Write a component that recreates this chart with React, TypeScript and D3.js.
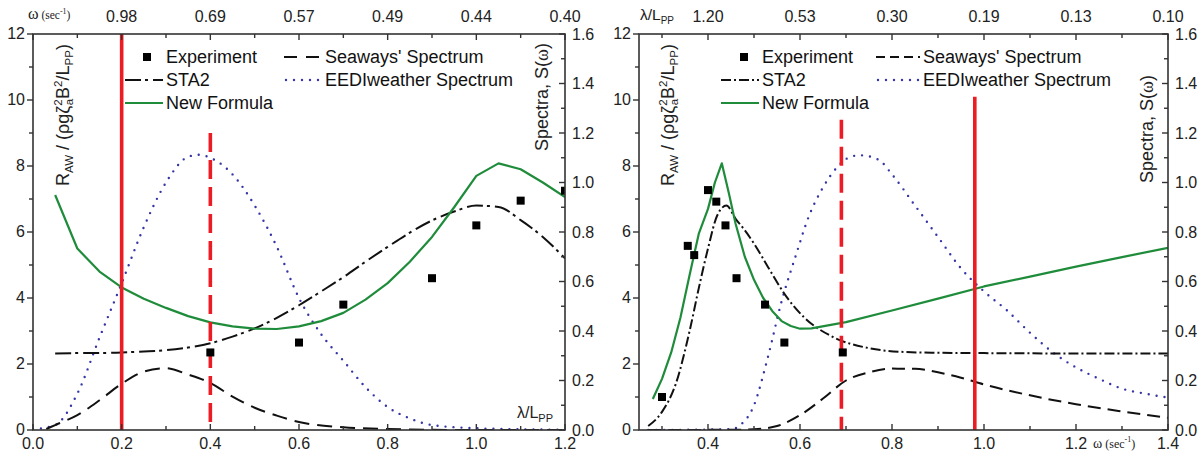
import React from "react";
import * as d3 from "d3";

const FONT = "Arial, 'Liberation Sans', Helvetica, sans-serif";
const SERIF = "'Liberation Serif', 'DejaVu Serif', Times, serif";

// ---------- Left panel (x = λ/Lpp) ----------
const leftFormulaX = [0.05, 0.1, 0.15, 0.2, 0.25, 0.3, 0.35, 0.4, 0.45, 0.5, 0.55, 0.6, 0.65, 0.7, 0.75, 0.8, 0.85, 0.9, 0.95, 1.0, 1.05, 1.1, 1.15, 1.2];
const leftFormulaY = [7.12, 5.5, 4.8, 4.32, 3.98, 3.7, 3.45, 3.26, 3.14, 3.07, 3.06, 3.14, 3.3, 3.55, 3.95, 4.45, 5.1, 5.85, 6.75, 7.7, 8.08, 7.9, 7.5, 7.06];
const leftSta2X = [0.05, 0.1, 0.15, 0.2, 0.25, 0.3, 0.35, 0.4, 0.45, 0.5, 0.55, 0.6, 0.65, 0.7, 0.75, 0.8, 0.85, 0.9, 0.95, 1.0, 1.05, 1.1, 1.15, 1.2];
const leftSta2Y = [2.32, 2.33, 2.33, 2.35, 2.38, 2.42, 2.5, 2.63, 2.83, 3.08, 3.4, 3.78, 4.2, 4.63, 5.1, 5.55, 5.98, 6.35, 6.62, 6.8, 6.76, 6.36, 5.85, 5.2];
const leftExpX = [0.4, 0.6, 0.7, 0.9, 1.0, 1.1, 1.2];
const leftExpY = [2.35, 2.65, 3.8, 4.6, 6.2, 6.95, 7.25];
const leftSeawaysX = [0.03, 0.05, 0.1, 0.15, 0.2, 0.25, 0.3, 0.35, 0.4, 0.45, 0.5, 0.55, 0.6, 0.7, 0.8, 0.9, 1.0, 1.1, 1.2];
const leftSeawaysS = [0.004, 0.02, 0.06, 0.12, 0.187, 0.236, 0.25, 0.224, 0.19, 0.135, 0.09, 0.058, 0.032, 0.011, 0.004, 0.001, 0, 0, 0];
const leftEediX = [0.0, 0.05, 0.1, 0.15, 0.2, 0.25, 0.3, 0.35, 0.375, 0.4, 0.45, 0.5, 0.55, 0.6, 0.65, 0.7, 0.75, 0.8, 0.85, 0.9, 1.0, 1.1, 1.2];
const leftEediS = [0.003, 0.02, 0.147, 0.373, 0.593, 0.82, 1.0, 1.104, 1.112, 1.1, 1.033, 0.907, 0.74, 0.533, 0.387, 0.28, 0.173, 0.093, 0.047, 0.02, 0.007, 0.003, 0.001];
const leftBottomTicks = [0, 0.2, 0.4, 0.6, 0.8, 1.0, 1.2];
const leftBottomLabels = ["0.0", "0.2", "0.4", "0.6", "0.8", "1.0", "1.2"];
const leftTopTicks = [0.2, 0.4, 0.6, 0.8, 1.0, 1.2];
const leftTopLabels = ["0.98", "0.69", "0.57", "0.49", "0.44", "0.40"];
const leftRedSolid = 0.2;
const leftRedDashed = 0.4;
const leftRedSolidTop = 12;
const leftRedDashedTop = 9.0;

// ---------- Right panel (x = ω) ----------
const rightFormulaX = [0.28, 0.3, 0.32, 0.34, 0.36, 0.38, 0.4, 0.415, 0.43, 0.445, 0.46, 0.48, 0.5, 0.52, 0.54, 0.56, 0.58, 0.6, 0.625, 0.7, 0.8, 0.9, 1.0, 1.1, 1.2, 1.3, 1.4];
const rightFormulaY = [0.94, 1.55, 2.35, 3.4, 4.7, 5.95, 6.7, 7.5, 8.08, 7.2, 6.25, 5.25, 4.55, 4.0, 3.6, 3.3, 3.15, 3.07, 3.08, 3.27, 3.62, 3.98, 4.35, 4.65, 4.95, 5.24, 5.52];
const rightSta2X = [0.27, 0.3, 0.33, 0.36, 0.38, 0.4, 0.42, 0.44, 0.46, 0.48, 0.5, 0.53, 0.57, 0.61, 0.67, 0.75, 0.82, 0.9, 1.0, 1.2, 1.4];
const rightSta2Y = [0.12, 0.55, 1.4, 3.0, 4.3, 5.5, 6.5, 6.8, 6.4, 6.05, 5.65, 4.95, 4.05, 3.4, 2.83, 2.48, 2.37, 2.34, 2.33, 2.32, 2.32];
const rightExpX = [0.3, 0.356, 0.37, 0.4, 0.418, 0.438, 0.462, 0.524, 0.566, 0.693];
const rightExpY = [1.0, 5.58, 5.3, 7.27, 6.92, 6.2, 4.6, 3.8, 2.65, 2.35];
const rightSeawaysX = [0.27, 0.45, 0.5, 0.55, 0.6, 0.65, 0.7, 0.75, 0.8, 0.85, 0.9, 0.95, 1.0, 1.1, 1.2, 1.3, 1.4];
const rightSeawaysS = [0, 0.001, 0.003, 0.016, 0.06, 0.127, 0.2, 0.233, 0.248, 0.247, 0.233, 0.211, 0.184, 0.14, 0.104, 0.075, 0.049];
const rightEediX = [0.27, 0.45, 0.47, 0.5, 0.53, 0.56, 0.59, 0.62, 0.65, 0.68, 0.71, 0.73, 0.77, 0.8, 0.85, 0.9, 0.95, 1.0, 1.05, 1.1, 1.15, 1.2, 1.25, 1.3, 1.35, 1.4];
const rightEediS = [0, 0.003, 0.02, 0.1, 0.293, 0.52, 0.7, 0.867, 0.98, 1.06, 1.104, 1.11, 1.093, 1.033, 0.907, 0.78, 0.653, 0.56, 0.483, 0.393, 0.313, 0.253, 0.207, 0.167, 0.147, 0.131];
const rightBottomTicks = [0.4, 0.6, 0.8, 1.0, 1.2, 1.4];
const rightBottomLabels = ["0.4", "0.6", "0.8", "1.0", "1.2", "1.4"];
const rightTopLabels = ["1.20", "0.53", "0.30", "0.19", "0.13", "0.10"];
const rightRedSolid = 0.98;
const rightRedDashed = 0.69;
const rightRedSolidTop = 10.1;
const rightRedDashedTop = 9.4;

// ---------- shared axes ----------
const raoTicks = [0, 2, 4, 6, 8, 10, 12];
const raoMinor = [1, 3, 5, 7, 9, 11];
const specTicks = [0, 0.2, 0.4, 0.6, 0.8, 1.0, 1.2, 1.4, 1.6];
const specLabels = ["0.0", "0.2", "0.4", "0.6", "0.8", "1.0", "1.2", "1.4", "1.6"];
const specMinor = [0.1, 0.3, 0.5, 0.7, 0.9, 1.1, 1.3, 1.5];

const TOP = 34;
const BOTTOM = 430;
const AXIS = "#333";
const RED = "#ec1c24";
const GREEN = "#1f8c3b";
const BLUE = "#3535a8";
const TICKFS = 16;

const yL = d3.scaleLinear().domain([0, 12]).range([BOTTOM, TOP]);
const yR = d3.scaleLinear().domain([0, 1.6]).range([BOTTOM, TOP]);

type PanelProps = {
  id: string;
  x: d3.ScaleLinear<number, number>;
  formula: [number[], number[]];
  sta2: [number[], number[]];
  exp: [number[], number[]];
  seaways: [number[], number[]];
  eedi: [number[], number[]];
  bottomTicks: number[];
  bottomLabels: string[];
  bottomMinor: number[];
  topTicks: number[];
  topLabels: string[];
  redSolid: number;
  redSolidTop: number;
  redDashed: number;
  redDashedTop: number;
  sta2Dash: string;
  seaDash: string;
};

function zip(a: number[], b: number[]): [number, number][] {
  return a.map((v, i) => [v, b[i]] as [number, number]);
}

function Panel(p: PanelProps) {
  const [x0, x1] = p.x.range();
  const lineL = d3.line<[number, number]>().x((d) => p.x(d[0])).y((d) => yL(d[1]));
  const lineLs = d3.line<[number, number]>().x((d) => p.x(d[0])).y((d) => yL(d[1])).curve(d3.curveMonotoneX);
  const lineR = d3.line<[number, number]>().x((d) => p.x(d[0])).y((d) => yR(d[1])).curve(d3.curveMonotoneX);
  const sq = 8;
  return (
    <g>
      <defs>
        <clipPath id={"clip" + p.id}>
          <rect x={x0} y={TOP} width={x1 - x0} height={BOTTOM - TOP} />
        </clipPath>
      </defs>
      <g clipPath={`url(#clip${p.id})`}>
        <path d={lineR(zip(p.eedi[0], p.eedi[1])) || ""} fill="none" stroke={BLUE} strokeWidth={2.4} strokeDasharray="0 8" strokeLinecap="round" />
        <path d={lineR(zip(p.seaways[0], p.seaways[1])) || ""} fill="none" stroke="#111" strokeWidth={2} strokeDasharray={p.seaDash} />
        <path d={lineLs(zip(p.sta2[0], p.sta2[1])) || ""} fill="none" stroke="#111" strokeWidth={2} strokeDasharray={p.sta2Dash} />
        <path d={lineL(zip(p.formula[0], p.formula[1])) || ""} fill="none" stroke={GREEN} strokeWidth={2.2} strokeLinejoin="round" />
        <line x1={p.x(p.redSolid)} x2={p.x(p.redSolid)} y1={yL(p.redSolidTop)} y2={BOTTOM} stroke={RED} strokeWidth={3.6} />
        <line x1={p.x(p.redDashed)} x2={p.x(p.redDashed)} y1={yL(p.redDashedTop)} y2={BOTTOM} stroke={RED} strokeWidth={3.6} strokeDasharray="19 8" />
        {p.exp[0].map((v, i) => (
          <rect key={i} x={p.x(v) - sq / 2} y={yL(p.exp[1][i]) - sq / 2} width={sq} height={sq} fill="#000" />
        ))}
      </g>
      {/* frame */}
      <rect x={x0} y={TOP} width={x1 - x0} height={BOTTOM - TOP} fill="none" stroke={AXIS} strokeWidth={1.6} />
      {/* bottom ticks (inward) */}
      {p.bottomTicks.map((t) => (
        <line key={"bt" + t} x1={p.x(t)} x2={p.x(t)} y1={BOTTOM} y2={BOTTOM - 6} stroke={AXIS} strokeWidth={1.4} />
      ))}
      {p.bottomMinor.map((t) => (
        <line key={"bm" + t} x1={p.x(t)} x2={p.x(t)} y1={BOTTOM} y2={BOTTOM - 4} stroke={AXIS} strokeWidth={1.4} />
      ))}
      {p.bottomTicks.map((t) => (
        <line key={"tt" + t} x1={p.x(t)} x2={p.x(t)} y1={TOP} y2={TOP + 6} stroke={AXIS} strokeWidth={1.4} />
      ))}
      {p.bottomMinor.map((t) => (
        <line key={"tm" + t} x1={p.x(t)} x2={p.x(t)} y1={TOP} y2={TOP + 4} stroke={AXIS} strokeWidth={1.4} />
      ))}
      {p.bottomTicks.map((t, i) => (
        <text key={"bl" + t} x={p.x(t)} y={449} textAnchor="middle" fontSize={TICKFS} fontFamily={FONT} fill="#222">
          {p.bottomLabels[i]}
        </text>
      ))}
      {p.topTicks.map((t, i) => (
        <text key={"tl" + t} x={p.x(t)} y={22} textAnchor="middle" fontSize={TICKFS} fontFamily={FONT} fill="#222">
          {p.topLabels[i]}
        </text>
      ))}
      {/* left axis ticks (outward) */}
      {raoTicks.map((t) => (
        <line key={"lt" + t} x1={x0} x2={x0 - 6} y1={yL(t)} y2={yL(t)} stroke={AXIS} strokeWidth={1.4} />
      ))}
      {raoMinor.map((t) => (
        <line key={"lm" + t} x1={x0} x2={x0 - 4} y1={yL(t)} y2={yL(t)} stroke={AXIS} strokeWidth={1.4} />
      ))}
      {raoTicks.map((t) => (
        <text key={"ll" + t} x={x0 - 8} y={yL(t) + 5} textAnchor="end" fontSize={TICKFS} fontFamily={FONT} fill="#222">
          {t}
        </text>
      ))}
      {/* right axis ticks (inward) */}
      {specTicks.map((t) => (
        <line key={"rt" + t} x1={x1} x2={x1 - 6} y1={yR(t)} y2={yR(t)} stroke={AXIS} strokeWidth={1.4} />
      ))}
      {specMinor.map((t) => (
        <line key={"rm" + t} x1={x1} x2={x1 - 4} y1={yR(t)} y2={yR(t)} stroke={AXIS} strokeWidth={1.4} />
      ))}
      {specTicks.map((t, i) => (
        <text key={"rl" + t} x={x1 + 7} y={yR(t) + 5.5} textAnchor="start" fontSize={TICKFS} fontFamily={FONT} fill="#222">
          {specLabels[i]}
        </text>
      ))}
    </g>
  );
}

function RaoTitle({ x, y }: { x: number; y: number }) {
  return (
    <text transform={`translate(${x},${y}) rotate(-90)`} fontSize={18} fontFamily={FONT} fill="#222">
      R<tspan fontSize={11.5} dy={4}>AW</tspan>
      <tspan dy={-4}> / (ρgζ</tspan>
      <tspan fontSize={11.5} dy={-7}>2</tspan>
      <tspan fontSize={11.5} dx={-6} dy={11}>a</tspan>
      <tspan dy={-4}>B</tspan>
      <tspan fontSize={11.5} dy={-7}>2</tspan>
      <tspan dy={7}>/L</tspan>
      <tspan fontSize={11.5} dy={4}>PP</tspan>
      <tspan dy={-4}>)</tspan>
    </text>
  );
}

function SpecTitle({ x, y }: { x: number; y: number }) {
  return (
    <text transform={`translate(${x},${y}) rotate(-90)`} fontSize={18} fontFamily={FONT} fill="#222">
      Spectra, S(<tspan fontFamily={SERIF}>ω</tspan>)
    </text>
  );
}

function Legend({ x0, x1, t1, d0, d1, t2, sqx, sta2Dash, seaDash }: { x0: number; x1: number; t1: number; d0: number; d1: number; t2: number; sqx: number; sta2Dash: string; seaDash: string }) {
  const rows = [57, 80, 103];
  const fs = 18;
  return (
    <g fontFamily={FONT} fontSize={fs} fill="#111">
      <rect x={sqx - 4} y={rows[0] - 4} width={8} height={8} fill="#000" />
      <text x={t1} y={rows[0] + 6}>Experiment</text>
      <line x1={x0} x2={x1} y1={rows[1]} y2={rows[1]} stroke="#111" strokeWidth={2} strokeDasharray={sta2Dash} />
      <text x={t1} y={rows[1] + 6}>STA2</text>
      <line x1={x0} x2={x1} y1={rows[2]} y2={rows[2]} stroke={GREEN} strokeWidth={2.2} />
      <text x={t1} y={rows[2] + 6}>New Formula</text>
      <line x1={d0} x2={d1} y1={rows[0]} y2={rows[0]} stroke="#111" strokeWidth={2} strokeDasharray={seaDash} />
      <text x={t2} y={rows[0] + 6}>Seaways' Spectrum</text>
      <line x1={d0 + 2} x2={d1} y1={rows[1]} y2={rows[1]} stroke={BLUE} strokeWidth={2.4} strokeDasharray="0 8" strokeLinecap="round" />
      <text x={t2} y={rows[1] + 6}>EEDIweather Spectrum</text>
    </g>
  );
}

export default function App() {
  const xLeft = d3.scaleLinear().domain([0, 1.2]).range([33, 565]);
  const xRight = d3.scaleLinear().domain([0.25, 1.4]).range([639, 1168]);
  return (
    <svg width={1204} height={457} style={{ position: "absolute", left: 0, top: 0, background: "#fff" }}>
      <rect width={1204} height={457} fill="#fff" />
      <Panel
        id="L"
        x={xLeft}
        formula={[leftFormulaX, leftFormulaY]}
        sta2={[leftSta2X, leftSta2Y]}
        exp={[leftExpX, leftExpY]}
        seaways={[leftSeawaysX, leftSeawaysS]}
        eedi={[leftEediX, leftEediS]}
        bottomTicks={leftBottomTicks}
        bottomLabels={leftBottomLabels}
        bottomMinor={[0.1, 0.3, 0.5, 0.7, 0.9, 1.1]}
        topTicks={leftTopTicks}
        topLabels={leftTopLabels}
        redSolid={leftRedSolid}
        redSolidTop={leftRedSolidTop}
        redDashed={leftRedDashed}
        redDashedTop={leftRedDashedTop}
        sta2Dash="16 4 3 5"
        seaDash="15 8"
      />
      <Panel
        id="R"
        x={xRight}
        formula={[rightFormulaX, rightFormulaY]}
        sta2={[rightSta2X, rightSta2Y]}
        exp={[rightExpX, rightExpY]}
        seaways={[rightSeawaysX, rightSeawaysS]}
        eedi={[rightEediX, rightEediS]}
        bottomTicks={rightBottomTicks}
        bottomLabels={rightBottomLabels}
        bottomMinor={[0.3, 0.5, 0.7, 0.9, 1.1, 1.3]}
        topTicks={rightBottomTicks}
        topLabels={rightTopLabels}
        redSolid={rightRedSolid}
        redSolidTop={rightRedSolidTop}
        redDashed={rightRedDashed}
        redDashedTop={rightRedDashedTop}
        sta2Dash="10 3 2 3"
        seaDash="13 7"
      />
      {/* axis titles */}
      <RaoTitle x={69} y={186} />
      <SpecTitle x={548} y={151} />
      <RaoTitle x={674} y={186} />
      <SpecTitle x={1153} y={183} />
      {/* top-left labels */}
      <text x={28} y={19} fill="#222">
        <tspan fontFamily={SERIF} fontSize={16}>ω</tspan>
        <tspan fontFamily={SERIF} fontSize={11.5}> (sec</tspan>
        <tspan fontFamily={SERIF} fontSize={8} dy={-5}>-1</tspan>
        <tspan fontFamily={SERIF} fontSize={11.5} dy={5}>)</tspan>
      </text>
      <text x={640} y={20} fill="#222" fontFamily={FONT}>
        <tspan fontSize={15.5}>λ/L</tspan>
        <tspan fontSize={10} dy={4}>PP</tspan>
      </text>
      {/* inner x-label on left panel */}
      <text x={517} y={418} fill="#222" fontFamily={FONT}>
        <tspan fontSize={16}>λ/L</tspan>
        <tspan fontSize={11} dy={4}>PP</tspan>
      </text>
      {/* bottom omega label on right panel */}
      <text x={1093} y={448} fill="#222">
        <tspan fontFamily={SERIF} fontSize={14}>ω</tspan>
        <tspan fontFamily={SERIF} fontSize={12}> (sec</tspan>
        <tspan fontFamily={SERIF} fontSize={8} dy={-6}>-1</tspan>
        <tspan fontFamily={SERIF} fontSize={12} dy={6}>)</tspan>
      </text>
      <Legend x0={125} x1={163} t1={166} d0={284} d1={321} t2={325} sqx={147} sta2Dash="16 4 3 5" seaDash="13 9" />
      <Legend x0={721} x1={759} t1={762} d0={876} d1={920} t2={923} sqx={744} sta2Dash="10 3 2 3" seaDash="9 5" />
    </svg>
  );
}
